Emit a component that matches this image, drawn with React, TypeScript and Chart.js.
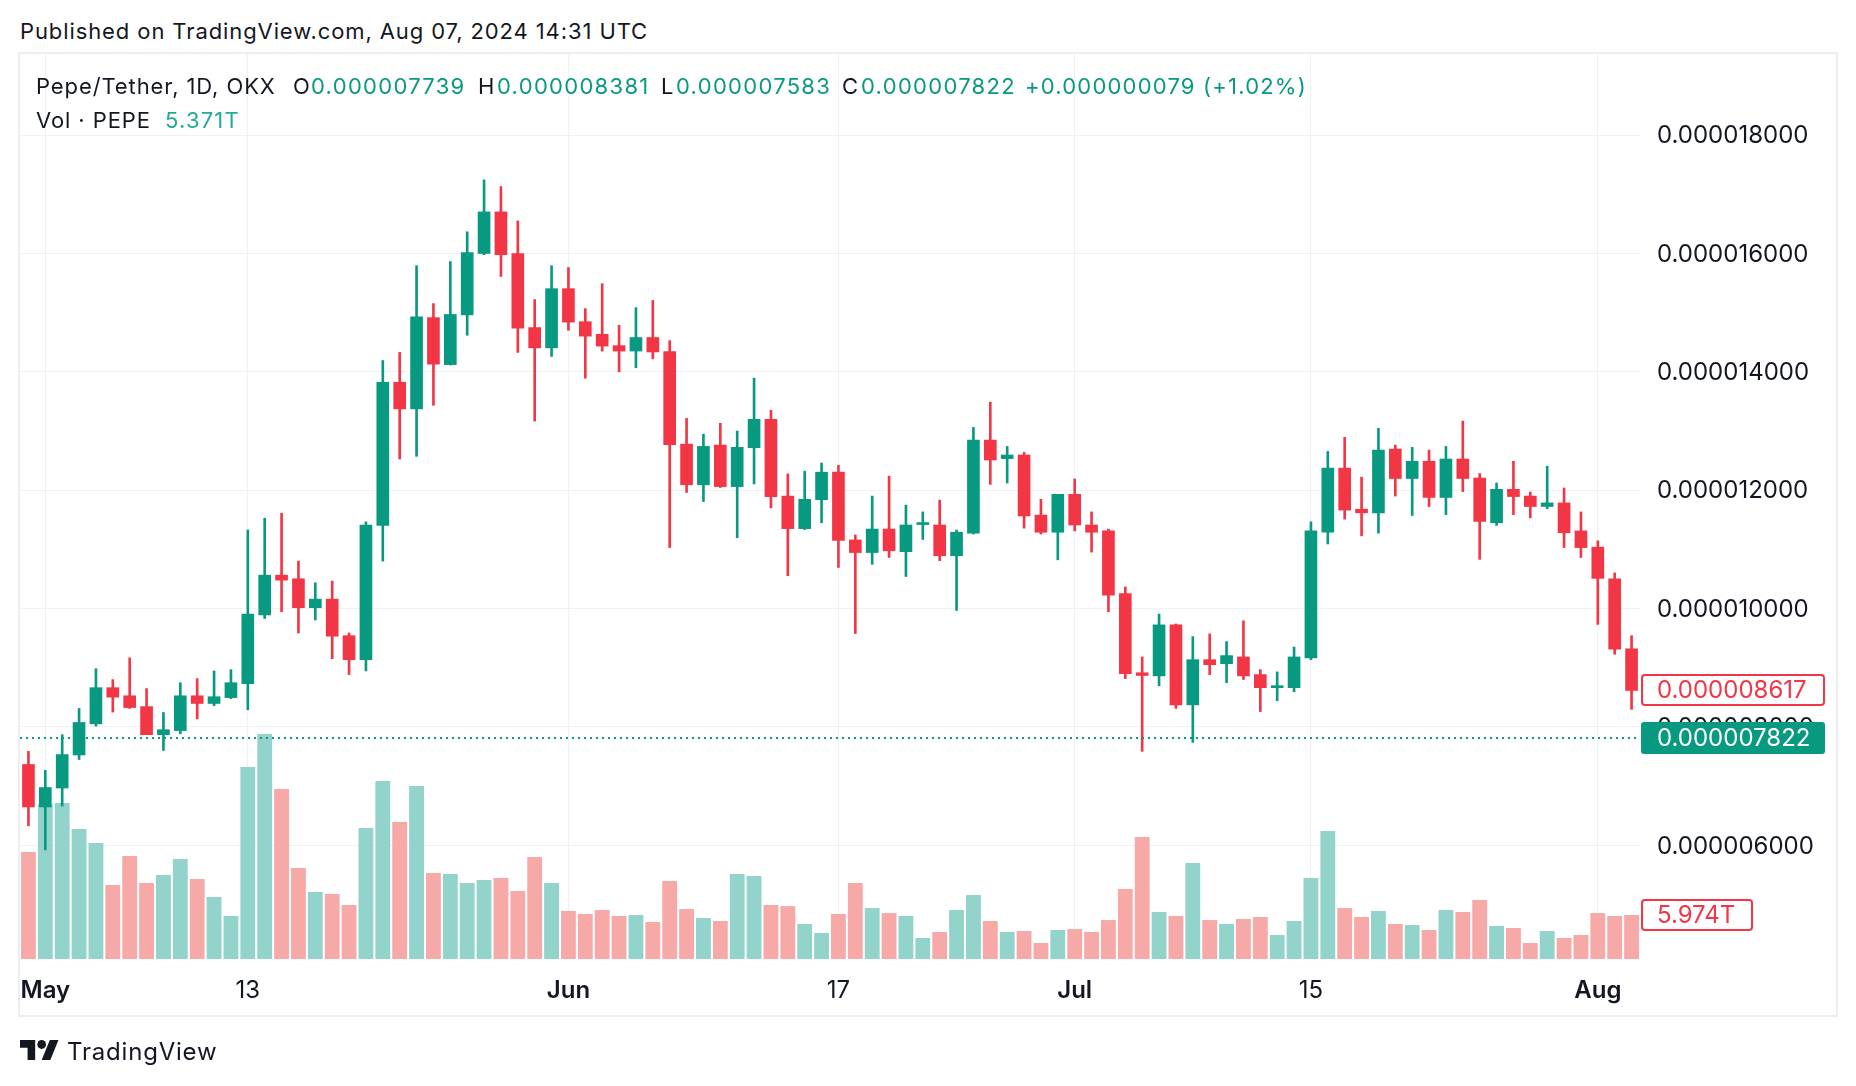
import React, { useEffect, useRef } from "react";
import { Chart, registerables } from "chart.js";

Chart.register(...registerables);

// ---------- data (prices in units of 1e-6 USDT, volume in trillions) ----------
const DATES = [
  "Apr 30",
  "May 1", "May 2", "May 3", "May 4", "May 5", "May 6", "May 7", "May 8", "May 9", "May 10",
  "May 11", "May 12", "May 13", "May 14", "May 15", "May 16", "May 17", "May 18", "May 19", "May 20",
  "May 21", "May 22", "May 23", "May 24", "May 25", "May 26", "May 27", "May 28", "May 29", "May 30", "May 31",
  "Jun 1", "Jun 2", "Jun 3", "Jun 4", "Jun 5", "Jun 6", "Jun 7", "Jun 8", "Jun 9", "Jun 10",
  "Jun 11", "Jun 12", "Jun 13", "Jun 14", "Jun 15", "Jun 16", "Jun 17", "Jun 18", "Jun 19", "Jun 20",
  "Jun 21", "Jun 22", "Jun 23", "Jun 24", "Jun 25", "Jun 26", "Jun 27", "Jun 28", "Jun 29", "Jun 30",
  "Jul 1", "Jul 2", "Jul 3", "Jul 4", "Jul 5", "Jul 6", "Jul 7", "Jul 8", "Jul 9", "Jul 10",
  "Jul 11", "Jul 12", "Jul 13", "Jul 14", "Jul 15", "Jul 16", "Jul 17", "Jul 18", "Jul 19", "Jul 20",
  "Jul 21", "Jul 22", "Jul 23", "Jul 24", "Jul 25", "Jul 26", "Jul 27", "Jul 28", "Jul 29", "Jul 30", "Jul 31",
  "Aug 1", "Aug 2", "Aug 3",
];

const OPEN = [
  7.366, 6.649, 6.969, 7.527, 8.053, 8.664, 8.527, 8.344, 7.870, 7.939,
  8.527, 8.397, 8.496, 8.733, 9.893, 10.565, 10.504, 10.015, 10.160, 9.542,
  9.137, 11.405, 13.824, 13.374, 14.916, 14.122, 14.962, 16.000, 16.702, 16.000,
  14.748, 14.405, 15.405, 14.847, 14.634, 14.443, 14.351, 14.580, 14.344, 12.779,
  12.092, 12.763, 12.061, 12.718, 13.198, 11.901, 11.351, 11.840, 12.305, 11.160,
  10.947, 11.344, 10.962, 11.420, 11.412, 10.893, 11.275, 12.847, 12.534, 12.595,
  11.580, 11.290, 11.931, 11.412, 11.313, 10.252, 8.916, 8.863, 9.725, 8.374,
  9.137, 9.069, 9.183, 8.885, 8.664, 8.664, 9.168, 11.290, 12.374, 11.679,
  11.618, 12.695, 12.198, 12.489, 11.878, 12.527, 12.206, 11.450, 12.015, 11.901,
  11.725, 11.786, 11.313, 11.038, 10.504, 9.321,
];

const HIGH = [
  7.588, 7.267, 7.870, 8.313, 8.985, 8.800, 9.168, 8.649, 8.244, 8.748,
  8.817, 8.947, 8.969, 11.328, 11.527, 11.611, 10.802, 10.435, 10.466, 9.588,
  11.466, 14.191, 14.328, 15.794, 15.153, 15.863, 16.366, 17.244, 17.130, 16.550,
  15.221, 15.794, 15.763, 15.069, 15.489, 14.786, 15.084, 15.206, 14.527, 13.214,
  12.947, 13.130, 13.000, 13.893, 13.351, 12.275, 12.321, 12.458, 12.420, 11.244,
  11.901, 12.237, 11.748, 11.634, 11.832, 11.328, 13.061, 13.489, 12.740, 12.641,
  11.847, 11.931, 12.191, 11.634, 11.344, 10.366, 9.183, 9.908, 9.740, 9.527,
  9.573, 9.443, 9.794, 8.969, 8.931, 9.351, 11.466, 12.656, 12.893, 12.221,
  13.046, 12.763, 12.725, 12.679, 12.740, 13.168, 12.282, 12.122, 12.489, 11.969,
  12.405, 12.038, 11.634, 11.145, 10.603, 9.542,
];

const LOW = [
  6.330, 5.924, 6.664, 7.450, 8.015, 8.252, 8.313, 7.870, 7.603, 7.885,
  8.137, 8.359, 8.480, 8.290, 9.832, 9.947, 9.588, 9.809, 9.153, 8.885,
  8.947, 10.802, 12.527, 12.573, 13.435, 14.115, 14.618, 15.980, 15.611, 14.328,
  13.168, 14.260, 14.702, 13.893, 14.351, 14.000, 14.069, 14.221, 11.031, 11.962,
  11.809, 12.046, 11.198, 12.107, 11.702, 10.557, 11.336, 11.450, 10.695, 9.580,
  10.748, 10.863, 10.542, 11.168, 10.809, 9.969, 11.260, 12.099, 12.122, 11.359,
  11.260, 10.824, 11.313, 10.954, 9.947, 8.817, 7.588, 8.695, 8.313, 7.740,
  8.885, 8.748, 8.802, 8.260, 8.443, 8.595, 9.137, 11.092, 11.511, 11.229,
  11.275, 11.901, 11.573, 11.725, 11.588, 11.977, 10.832, 11.405, 11.588, 11.534,
  11.687, 11.031, 10.863, 9.733, 9.229, 8.298,
];

const CLOSE = [
  6.649, 6.977, 7.534, 8.076, 8.664, 8.504, 8.328, 7.870, 7.954, 8.527,
  8.397, 8.511, 8.748, 9.908, 10.565, 10.481, 10.015, 10.160, 9.534, 9.137,
  11.412, 13.824, 13.374, 14.931, 14.130, 14.969, 16.015, 16.702, 15.980, 14.740,
  14.405, 15.405, 14.840, 14.603, 14.435, 14.351, 14.580, 14.336, 12.771, 12.092,
  12.740, 12.061, 12.725, 13.198, 11.893, 11.351, 11.847, 12.305, 11.153, 10.947,
  11.344, 10.977, 11.412, 11.435, 10.893, 11.290, 12.847, 12.511, 12.595, 11.565,
  11.290, 11.931, 11.412, 11.290, 10.229, 8.901, 8.870, 9.725, 8.374, 9.137,
  9.053, 9.206, 8.863, 8.664, 8.695, 9.183, 11.313, 12.374, 11.664, 11.618,
  12.679, 12.198, 12.489, 11.878, 12.527, 12.198, 11.473, 12.015, 11.893, 11.725,
  11.786, 11.282, 11.031, 10.511, 9.313, 8.617,
];

const VOLUME_T = [
  14.52, 21.04, 21.18, 17.65, 15.75, 10.05, 13.98, 10.32, 11.40, 13.57,
  10.86, 8.42, 5.84, 26.06, 30.54, 23.08, 12.35, 9.10, 8.82, 7.33,
  17.78, 24.16, 18.60, 23.48, 11.67, 11.54, 10.32, 10.72, 11.00, 9.23,
  13.85, 10.32, 6.52, 6.11, 6.65, 5.84, 5.97, 5.02, 10.59, 6.79,
  5.57, 5.16, 11.54, 11.27, 7.33, 7.19, 4.75, 3.53, 6.11, 10.32,
  6.92, 6.24, 5.84, 2.85, 3.67, 6.65, 8.69, 5.16, 3.67, 3.80,
  2.17, 3.94, 4.07, 3.67, 5.29, 9.50, 16.56, 6.38, 5.84, 13.03,
  5.29, 4.75, 5.43, 5.70, 3.26, 5.16, 11.00, 17.38, 6.92, 5.70,
  6.52, 4.75, 4.62, 3.94, 6.65, 6.38, 8.01, 4.48, 4.21, 2.17,
  3.80, 2.85, 3.26, 6.24, 5.84, 5.974,
];

const PRICE_TICKS = [6, 8, 10, 12, 14, 16, 18];
const X_TICK_INDEX = [1, 13, 32, 48, 62, 76, 93];
const X_TICK_TEXT = ["May", "13", "Jun", "17", "Jul", "15", "Aug"];
const X_TICK_BOLD = [true, false, true, false, true, false, true];

const LAST_PRICE = 7.822;
const LAST_CLOSE = 8.617;
const LAST_VOLUME = 5.974;
const LAST_VOLUME_TEXT = "5.974T";

const HEADER_TEXT = "Published on TradingView.com, Aug 07, 2024 14:31 UTC";
const SYMBOL_TEXT = "Pepe/Tether, 1D, OKX";
const OHLC_LABELS = ["O", "H", "L", "C"];
const OHLC_VALUES = ["0.000007739", "0.000008381", "0.000007583", "0.000007822"];
const CHANGE_TEXT = "+0.000000079 (+1.02%)";
const VOL_LABEL = "Vol · PEPE";
const VOL_VALUE = "5.371T";

// ---------- styles ----------
const GREEN = "#089981";
const RED = "#f23645";
const VOL_GREEN = "#92d3cb";
const VOL_RED = "#f7a9a8";
const GRID = "#f0f1f4";
const TEXT = "#131722";
const FONT = "Inter, 'Noto Sans', sans-serif";

const fmtPrice = (v: number) => (v / 1e6).toFixed(9);

function roundRect(ctx: CanvasRenderingContext2D, x: number, y: number, w: number, h: number, r: number) {
  ctx.beginPath();
  ctx.moveTo(x + r, y);
  ctx.lineTo(x + w - r, y);
  ctx.quadraticCurveTo(x + w, y, x + w, y + r);
  ctx.lineTo(x + w, y + h - r);
  ctx.quadraticCurveTo(x + w, y + h, x + w - r, y + h);
  ctx.lineTo(x + r, y + h);
  ctx.quadraticCurveTo(x, y + h, x, y + h - r);
  ctx.lineTo(x, y + r);
  ctx.quadraticCurveTo(x, y, x + r, y);
  ctx.closePath();
}

const overlayPlugin = {
  id: "tvOverlay",
  afterDraw(chart: any) {
    const { ctx, chartArea, scales } = chart;
    const y = scales.y;
    const x = scales.x;
    const yv = scales.yVol;
    ctx.save();

    // dotted last price line
    const py = Math.round(y.getPixelForValue(LAST_PRICE));
    ctx.strokeStyle = GREEN;
    ctx.lineWidth = 2;
    ctx.setLineDash([2, 4]);
    ctx.beginPath();
    ctx.moveTo(chartArea.left, py);
    ctx.lineTo(chartArea.right, py);
    ctx.stroke();
    ctx.setLineDash([]);

    // price axis labels
    ctx.font = `400 24px ${FONT}`;
    ctx.fillStyle = TEXT;
    ctx.textAlign = "left";
    ctx.textBaseline = "middle";
    const labelX = chartArea.right + 17;
    PRICE_TICKS.forEach((v) => {
      ctx.fillText(fmtPrice(v), labelX, y.getPixelForValue(v) + 1);
    });

    // time axis labels
    ctx.textAlign = "center";
    X_TICK_INDEX.forEach((idx, i) => {
      ctx.font = `${X_TICK_BOLD[i] ? 600 : 400} 24px ${FONT}`;
      ctx.fillStyle = TEXT;
      ctx.fillText(X_TICK_TEXT[i], x.getPixelForValue(idx), 991);
    });

    // label boxes
    const boxX = chartArea.right + 1;
    const drawBox = (cy: number, w: number, text: string, fill: string | null, stroke: string, color: string) => {
      const h = 32;
      const top = Math.round(cy - h / 2);
      roundRect(ctx, boxX, top, w, h, 3);
      ctx.fillStyle = fill || "#ffffff";
      ctx.fill();
      if (!fill) {
        ctx.lineWidth = 2;
        ctx.strokeStyle = stroke;
        roundRect(ctx, boxX + 1, top + 1, w - 2, h - 2, 3);
        ctx.stroke();
      }
      ctx.font = `400 24px ${FONT}`;
      ctx.fillStyle = color;
      ctx.textAlign = "left";
      ctx.textBaseline = "middle";
      ctx.fillText(text, labelX, top + h / 2 + 1);
    };
    drawBox(y.getPixelForValue(LAST_CLOSE), 184, fmtPrice(LAST_CLOSE), null, RED, RED);
    drawBox(y.getPixelForValue(LAST_PRICE), 184, fmtPrice(LAST_PRICE), GREEN, GREEN, "#ffffff");
    drawBox(yv.getPixelForValue(LAST_VOLUME), 112, LAST_VOLUME_TEXT, null, RED, RED);

    ctx.restore();
  },
};

function ChartCanvas() {
  const ref = useRef<HTMLCanvasElement | null>(null);
  useEffect(() => {
    const canvas = ref.current;
    if (!canvas) return;
    const up = CLOSE.map((c, i) => c >= OPEN[i]);
    const candleColors = up.map((u) => (u ? GREEN : RED));
    const volColors = up.map((u) => (u ? VOL_GREEN : VOL_RED));
    const bodies = OPEN.map((o, i) => [Math.min(o, CLOSE[i]), Math.max(o, CLOSE[i])]);
    const wicks = LOW.map((l, i) => [l, HIGH[i]]);

    const chart = new Chart(canvas, {
      type: "bar",
      data: {
        labels: DATES,
        datasets: [
          {
            label: "Body",
            data: bodies as any,
            backgroundColor: candleColors,
            barThickness: 12,
            minBarLength: 2,
            grouped: false,
            yAxisID: "y",
            order: 0,
          } as any,
          {
            label: "Wick",
            data: wicks as any,
            backgroundColor: candleColors,
            barThickness: 2,
            grouped: false,
            yAxisID: "y",
            order: 1,
          } as any,
          {
            label: "Volume",
            data: VOLUME_T,
            backgroundColor: volColors,
            barPercentage: 0.88,
            categoryPercentage: 1,
            grouped: false,
            yAxisID: "yVol",
            order: 2,
          } as any,
        ],
      },
      options: {
        animation: false,
        responsive: false,
        maintainAspectRatio: false,
        events: [],
        layout: { padding: { left: 20, top: 54, right: 18, bottom: 71 } },
        plugins: { legend: { display: false }, tooltip: { enabled: false } },
        scales: {
          x: {
            offset: true,
            grid: { offset: false, color: GRID, lineWidth: 1, drawTicks: false },
            border: { display: false },
            ticks: { display: false },
            afterBuildTicks: (axis: any) => {
              axis.ticks = X_TICK_INDEX.map((v) => ({ value: v }));
            },
            afterFit: (axis: any) => {
              axis.height = 56;
            },
          },
          y: {
            position: "right",
            min: 4.08,
            max: 19.37,
            grid: { color: GRID, lineWidth: 1, drawTicks: false },
            border: { display: false },
            ticks: { display: false },
            afterBuildTicks: (axis: any) => {
              axis.ticks = PRICE_TICKS.map((v) => ({ value: v }));
            },
            afterFit: (axis: any) => {
              axis.width = 198;
            },
          },
          yVol: {
            display: false,
            min: 0,
            max: 122.9,
          },
        },
      } as any,
      plugins: [overlayPlugin],
    });
    return () => chart.destroy();
  }, []);
  return (
    <canvas
      ref={ref}
      width={1856}
      height={1086}
      style={{ position: "absolute", left: 0, top: 0, width: 1856, height: 1086, display: "block" }}
    />
  );
}

function TVLogo() {
  return (
    <svg width={39} height={20} viewBox="0 4 36 18" preserveAspectRatio="none" style={{ position: "absolute", left: 20, top: 1040 }}>
      <path d="M14 22H7V11H0V4h14v18Z" fill={TEXT} />
      <circle cx="20" cy="8" r="4" fill={TEXT} />
      <path d="M28 22h-8l7.5-18h8L28 22Z" fill={TEXT} />
    </svg>
  );
}

const abs = (left: number, centerY: number, size: number, color: string, spacing = 0.9) => ({
  position: "absolute" as const,
  left,
  top: centerY - 13,
  height: 26,
  lineHeight: "26px",
  fontSize: size,
  letterSpacing: spacing,
  color,
  whiteSpace: "nowrap" as const,
});

export default function App() {
  const ohlcLabelX = [293, 478, 661, 842];
  const ohlcValueX = [311, 497, 676, 861];
  return (
    <div
      style={{
        position: "fixed",
        left: 0,
        top: 0,
        width: 1856,
        height: 1086,
        background: "#ffffff",
        fontFamily: FONT,
        color: TEXT,
        overflow: "hidden",
      }}
    >
      <div style={abs(20, 31, 22, TEXT)}>{HEADER_TEXT}</div>
      <div
        style={{
          position: "absolute",
          left: 18,
          top: 52,
          width: 1820,
          height: 965,
          border: "2px solid #eceef3",
          boxSizing: "border-box",
        }}
      />
      <ChartCanvas />
      <div style={abs(36, 86, 22, TEXT)}>{SYMBOL_TEXT}</div>
      {OHLC_LABELS.map((l, i) => (
        <React.Fragment key={l}>
          <div style={abs(ohlcLabelX[i], 86, 22, TEXT)}>{l}</div>
          <div style={abs(ohlcValueX[i], 86, 22, GREEN, 1.3)}>{OHLC_VALUES[i]}</div>
        </React.Fragment>
      ))}
      <div style={abs(1025, 86, 22, GREEN, 1.2)}>{CHANGE_TEXT}</div>
      <div style={abs(36, 120, 22, TEXT)}>{VOL_LABEL}</div>
      <div style={abs(165, 120, 22, "#22ab94", 1.2)}>{VOL_VALUE}</div>
      <TVLogo />
      <div style={abs(67, 1052, 24, TEXT, 0.8)}>TradingView</div>
    </div>
  );
}
